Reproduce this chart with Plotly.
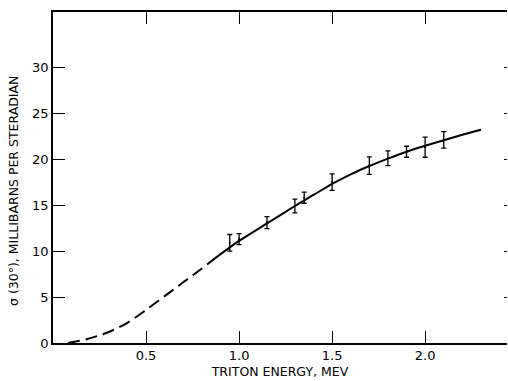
import plotly.graph_objects as go

# Dashed (extrapolated) part of the curve
dash_x = [0.08, 0.18, 0.30, 0.40, 0.50, 0.60, 0.70, 0.80, 0.87]
dash_y = [0.0, 0.4, 1.2, 2.2, 3.6, 5.1, 6.6, 8.1, 9.2]

# Solid part of the curve
solid_x = [0.87, 0.95, 1.00, 1.15, 1.30, 1.40, 1.50, 1.60, 1.70, 1.80, 1.90, 2.00, 2.10, 2.20, 2.30]
solid_y = [9.2, 10.4, 11.1, 13.0, 14.9, 16.1, 17.3, 18.35, 19.25, 20.05, 20.8, 21.45, 22.05, 22.65, 23.2]

# Measured points with error bars
pt_x = [0.95, 1.00, 1.15, 1.30, 1.35, 1.50, 1.70, 1.80, 1.90, 2.00, 2.10]
pt_y = [10.9, 11.3, 13.1, 14.9, 15.8, 17.5, 19.3, 20.1, 20.8, 21.3, 22.1]
pt_err = [0.9, 0.6, 0.65, 0.75, 0.6, 0.9, 0.95, 0.8, 0.6, 1.1, 0.9]

x_ticks = [0.5, 1.0, 1.5, 2.0]
x_labels = ["0.5", "1.0", "1.5", "2.0"]
y_ticks = [0, 5, 10, 15, 20, 25, 30]

font = dict(family="DejaVu Sans", size=13, color="black")
tfont = dict(family="DejaVu Sans", size=12.5, color="black")

fig = go.Figure()
fig.add_trace(go.Scatter(x=dash_x, y=dash_y, mode="lines", line_shape="spline",
                         line=dict(color="black", width=2, dash="12px,6px", smoothing=0.8),
                         showlegend=False))
fig.add_trace(go.Scatter(x=solid_x, y=solid_y, mode="lines", line_shape="spline",
                         line=dict(color="black", width=2, smoothing=0.6), showlegend=False))
fig.add_trace(go.Scatter(x=pt_x, y=pt_y, mode="markers",
                         marker=dict(size=2, color="black"),
                         error_y=dict(type="data", array=pt_err, visible=True,
                                      color="black", thickness=1.3, width=2.5),
                         showlegend=False))
# invisible trace on the right axis so its ticks are drawn
fig.add_trace(go.Scatter(x=[None], y=[None], yaxis="y2", showlegend=False))

fig.update_layout(
    width=508, height=381,
    margin=dict(l=53, r=1, t=12, b=38),
    paper_bgcolor="white", plot_bgcolor="white",
    font=font,
    xaxis=dict(range=[0, 2.44], tickvals=x_ticks, ticktext=x_labels,
               ticks="inside", ticklen=12, tickwidth=1.3, tickcolor="black",
               showline=True, linecolor="black", linewidth=1.5, mirror="ticks",
               showgrid=False, zeroline=False, tickfont=font,
               title=dict(text="TRITON ENERGY, MEV", standoff=5, font=tfont)),
    yaxis=dict(range=[0, 36], tickvals=y_ticks,
               ticks="inside", ticklen=12, tickwidth=1.3, tickcolor="black",
               showline=True, linecolor="black", linewidth=1.5, tickfont=font,
               showgrid=False, zeroline=False),
    yaxis2=dict(range=[0, 36], overlaying="y", side="right",
                tickvals=y_ticks[1:], ticks="inside", ticklen=3, tickwidth=1.3,
                tickcolor="black", showticklabels=False, showline=False,
                showgrid=False, zeroline=False),
    annotations=[dict(text="σ (30°), MILLIBARNS PER STERADIAN", textangle=-90,
                      xref="paper", yref="paper", x=-53/454 + 13/454, y=(343-191)/331,
                      xanchor="center", yanchor="middle", showarrow=False, font=tfont)],
)

fig.write_html("out.html")
